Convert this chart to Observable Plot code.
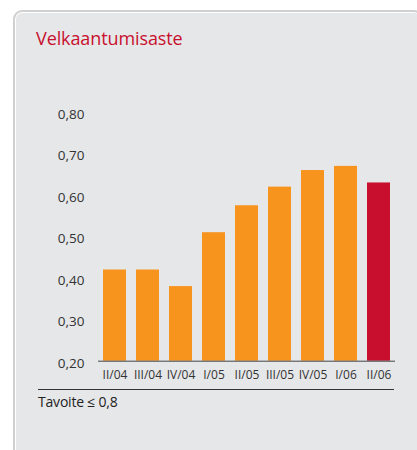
<!DOCTYPE html>
<html>
<head>
<meta charset="utf-8">
<script src="https://cdn.jsdelivr.net/npm/d3@7"></script>
<script src="https://cdn.jsdelivr.net/npm/@observablehq/plot@0.6"></script>
<style>
  html, body { margin: 0; padding: 0; background: #ffffff; overflow: hidden; }
  body { width: 417px; height: 450px; position: relative; font-family: "Open Sans", sans-serif; }
  #card {
    position: absolute; left: 13px; top: 10px; width: 410px; height: 470px;
    box-sizing: border-box; background: #e6e7e9;
    border: 2px solid #d0d0d0; border-radius: 9px;
    box-shadow: inset 0 0 0 1px #ffffff;
  }
  #title {
    position: absolute; left: 36px; top: 29px; font-size: 18px; color: #c8102e;
    letter-spacing: -0.1px; line-height: 1;
  }
  #chart { position: absolute; left: 0; top: 100px; }
  #sep { position: absolute; left: 38px; top: 389px; width: 356px; height: 0; border-top: 1px solid #333; }
  #note { position: absolute; left: 38px; top: 395px; font-size: 14px; color: #222; line-height: 1; letter-spacing: -0.2px; }
</style>
</head>
<body>
<div id="card"></div>
<div id="title">Velkaantumisaste</div>
<div id="chart"></div>
<div id="sep"></div>
<div id="note">Tavoite ≤ 0,8</div>
<script>
const quarters = ["II/04", "III/04", "IV/04", "I/05", "II/05", "III/05", "IV/05", "I/06", "II/06"];
const values = [0.42, 0.42, 0.38, 0.51, 0.575, 0.62, 0.66, 0.67, 0.63];
const highlight = ["no", "no", "no", "no", "no", "no", "no", "no", "yes"];
const yTicks = [0.2, 0.3, 0.4, 0.5, 0.6, 0.7, 0.8];

const data = quarters.map((q, i) => ({q, v: values[i], h: highlight[i]}));
const fmt = d => d3.format(".2f")(d).replace(".", ",");

const chart = Plot.plot({
  width: 417,
  height: 290,
  marginLeft: 98,
  marginRight: 22,
  marginTop: 12,
  marginBottom: 29.3,
  style: { background: "transparent", fontFamily: "Open Sans, sans-serif", color: "#333" },
  x: { domain: quarters, paddingInner: 0.31, paddingOuter: 0.105, label: null },
  y: { domain: [0.2, 0.8], label: null },
  color: { domain: ["no", "yes"], range: ["#f7941d", "#c8102e"] },
  marks: [
    Plot.barY(data, { x: "q", y1: 0.2, y2: "v", fill: "h" }),
    Plot.ruleY([0.2], { stroke: "#444", strokeWidth: 1 }),
    Plot.axisX({ tickSize: 0, tickPadding: 9, fontSize: 12, fill: "#333", label: null, letterSpacing: -0.3 }),
    Plot.axisY({ ticks: yTicks, tickFormat: fmt, tickSize: 0, tickPadding: 14, fontSize: 13.5, fill: "#333", dy: 2, label: null })
  ]
});
document.getElementById("chart").appendChild(chart);
</script>
</body>
</html>
